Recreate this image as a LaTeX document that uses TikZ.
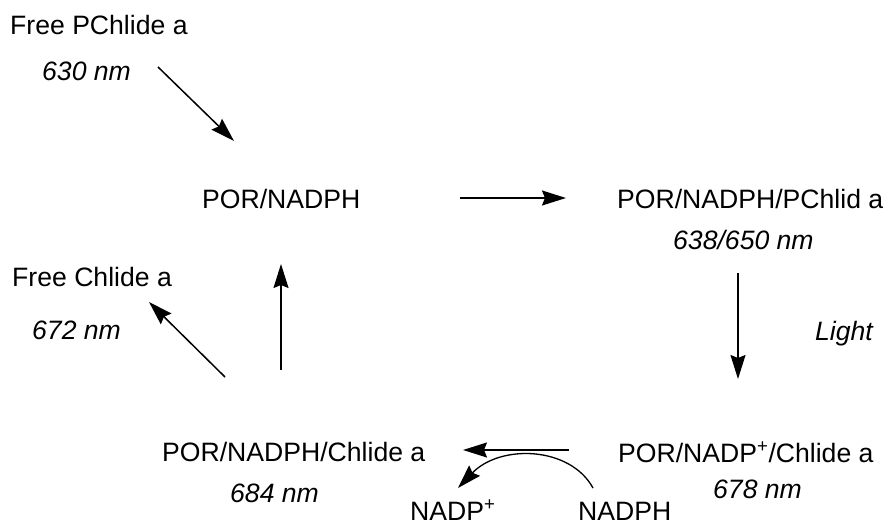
\documentclass[tikz,border=0pt]{standalone}
\usepackage{fontspec}
\setmainfont{Liberation Sans}
\usetikzlibrary{arrows.meta}
\begin{document}
\begin{tikzpicture}[x=1pt,y=-1pt,
  lbl/.style={inner sep=0pt,anchor=base west,font=\fontsize{26.6}{30}\selectfont},
  wl/.style={inner sep=0pt,anchor=base west,font=\fontsize{26.6}{30}\selectfont\itshape},
  arr/.style={line width=1.5pt,-{Stealth[length=24pt,width=15pt,inset=3pt]}}]
\useasboundingbox (0,0) rectangle (887,524);
\node[lbl] (fpa) at (10,35) {Free PChlide a};
\node[wl] (n630) at (42,81) {630 nm};
\node[lbl] (pn) at (202,209) {POR/NADPH};
\node[lbl] (pnp) at (617,208) {POR/NADPH/PChlid a};
\node[wl] (n638) at (673,249) {638/650 nm};
\node[wl] (light) at (815,340) {Light};
\node[lbl] (fca) at (12,287) {Free Chlide a};
\node[wl] (n672) at (32,339) {672 nm};
\node[lbl] (pnc) at (162,461) {POR/NADPH/Chlide a};
\node[wl] (n684) at (230,502) {684 nm};
\node[lbl] (pnpc) at (618,462) {POR/NADP\textsuperscript{+}/Chlide a};
\node[wl] (n678) at (713,498) {678 nm};
\node[lbl] (nadp) at (410,520) {NADP\textsuperscript{+}};
\node[lbl] (nadph) at (578,520) {NADPH};
% arrow end points
\coordinate (a1s) at (158,67); \coordinate (a1e) at (234,141);
\coordinate (a2s) at (460,198); \coordinate (a2e) at (566,198);
\coordinate (a3s) at (738,273); \coordinate (a3e) at (738,379);
\coordinate (a4s) at (569,450); \coordinate (a4e) at (463,450);
\coordinate (a5s) at (281,370); \coordinate (a5e) at (281,264);
\coordinate (a6s) at (225,377); \coordinate (a6e) at (149,302);
\coordinate (c1s) at (593,488); \coordinate (c1e) at (458,488);
\draw[arr] (a1s) -- (a1e);
\draw[arr] (a2s) -- (a2e);
\draw[arr] (a3s) -- (a3e);
\draw[arr] (a4s) -- (a4e);
\draw[arr] (a5s) -- (a5e);
\draw[arr] (a6s) -- (a6e);
\draw[arr,line width=1.3pt] (c1s) .. controls (570,446) and (500,444) .. (c1e);
\end{tikzpicture}
\end{document}
